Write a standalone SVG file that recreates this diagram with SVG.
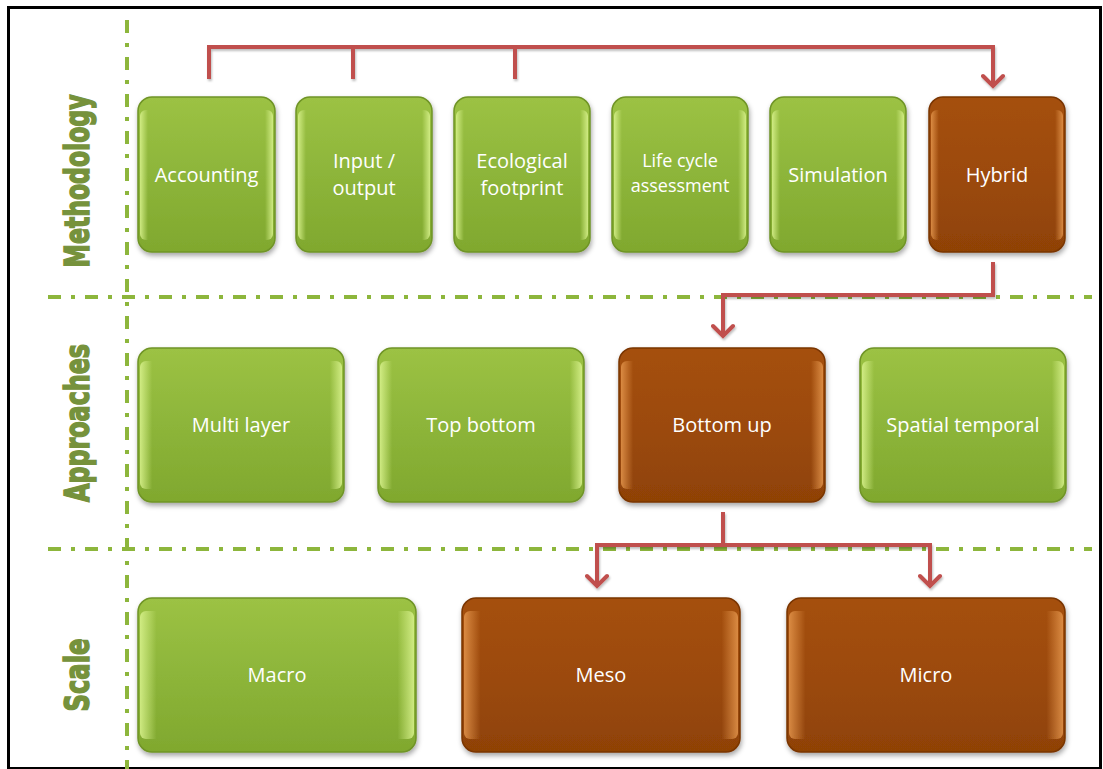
<svg xmlns="http://www.w3.org/2000/svg" width="1103" height="769" viewBox="0 0 1103 769">
<defs>
<linearGradient id="gGreen" x1="0" y1="0" x2="0" y2="1">
<stop offset="0" stop-color="#9cc244"/>
<stop offset="0.5" stop-color="#8db53a"/>
<stop offset="1" stop-color="#80a82e"/>
</linearGradient>
<linearGradient id="gBrown" x1="0" y1="0" x2="0" y2="1">
<stop offset="0" stop-color="#a5500e"/>
<stop offset="0.5" stop-color="#9c4a0a"/>
<stop offset="1" stop-color="#8f4206"/>
</linearGradient>
<linearGradient id="gEdgeG" x1="0" y1="0" x2="1" y2="0">
<stop offset="0" stop-color="#d6f08a" stop-opacity="0.9"/>
<stop offset="0.06" stop-color="#d6f08a" stop-opacity="0"/>
<stop offset="0.94" stop-color="#d6f08a" stop-opacity="0"/>
<stop offset="1" stop-color="#d6f08a" stop-opacity="0.9"/>
</linearGradient>
<linearGradient id="gEdgeB" x1="0" y1="0" x2="1" y2="0">
<stop offset="0" stop-color="#e89a50" stop-opacity="0.8"/>
<stop offset="0.06" stop-color="#e89a50" stop-opacity="0"/>
<stop offset="0.94" stop-color="#e89a50" stop-opacity="0"/>
<stop offset="1" stop-color="#e89a50" stop-opacity="0.8"/>
</linearGradient>
<filter id="sh" x="-10%" y="-10%" width="120%" height="125%">
<feDropShadow dx="1" dy="3" stdDeviation="2.5" flood-color="#000" flood-opacity="0.35"/>
</filter>
<filter id="lsh" x="-10%" y="-10%" width="120%" height="130%">
<feDropShadow dx="1" dy="2" stdDeviation="1" flood-color="#000" flood-opacity="0.25"/>
</filter>
<marker id="arr" viewBox="-14 -12 16 24" markerWidth="16" markerHeight="24" refX="0" refY="0" orient="auto" markerUnits="userSpaceOnUse">
<path d="M-11,-10 L-1,0 L-11,10" fill="none" stroke="#c0504d" stroke-width="4" stroke-linecap="round" stroke-linejoin="miter"/>
</marker>
</defs>
<style>
.g{fill:url(#gGreen);stroke:#6f9426;stroke-width:1.5;filter:url(#sh)}
.b{fill:url(#gBrown);stroke:#7a3504;stroke-width:1.5;filter:url(#sh)}
.eg{fill:url(#gEdgeG);stroke:none}
.eb{fill:url(#gEdgeB);stroke:none}
.t{font-family:"Open Sans","Liberation Sans",sans-serif;fill:#ffffff;font-size:20px;text-anchor:middle}
.ts{font-size:18px}
.lab{font-family:"DejaVu Sans Condensed","Liberation Sans Narrow","Liberation Sans",sans-serif;font-weight:bold;font-size:34px;fill:#76923c;stroke:#76923c;stroke-width:1.5;text-anchor:middle}
.dd{stroke:#8db63c;stroke-width:4;fill:none;stroke-dasharray:13 10 4 10}
.c{stroke:#c0504d;stroke-width:4;fill:none;stroke-linejoin:miter}
</style>
<rect x="0" y="0" width="1103" height="769" fill="#ffffff"/>
<rect x="8.5" y="7.5" width="1092" height="761" fill="none" stroke="#000" stroke-width="3"/>

<g id="grid">
<line class="dd" x1="127" y1="20" x2="127" y2="769"/>
<line class="dd" x1="48" y1="297" x2="1092" y2="297"/>
<line class="dd" x1="48" y1="549" x2="1092" y2="549"/>
</g>

<g id="labels">
<text class="lab" transform="translate(89,181) rotate(-90)" textLength="173" lengthAdjust="spacingAndGlyphs">Methodology</text>
<text class="lab" transform="translate(89,423) rotate(-90)" textLength="158" lengthAdjust="spacingAndGlyphs">Approaches</text>
<text class="lab" transform="translate(89,675) rotate(-90)" textLength="73" lengthAdjust="spacingAndGlyphs">Scale</text>
</g>

<g id="n-accounting"><rect class="g" x="138" y="97" width="137" height="155" rx="14"/><rect class="eg" x="140" y="110" width="133" height="130" rx="6"/><text class="t" x="206.5" y="182">Accounting</text></g>
<g id="n-inputoutput"><rect class="g" x="296" y="97" width="136" height="155" rx="14"/><rect class="eg" x="298" y="110" width="132" height="130" rx="6"/><text class="t" x="364" y="168">Input /</text><text class="t" x="364" y="195">output</text></g>
<g id="n-ecological"><rect class="g" x="454" y="97" width="136" height="155" rx="14"/><rect class="eg" x="456" y="110" width="132" height="130" rx="6"/><text class="t" x="522" y="168">Ecological</text><text class="t" x="522" y="195">footprint</text></g>
<g id="n-lca"><rect class="g" x="612" y="97" width="136" height="155" rx="14"/><rect class="eg" x="614" y="110" width="132" height="130" rx="6"/><text class="t ts" x="680" y="167">Life cycle</text><text class="t ts" x="680" y="192">assessment</text></g>
<g id="n-simulation"><rect class="g" x="770" y="97" width="136" height="155" rx="14"/><rect class="eg" x="772" y="110" width="132" height="130" rx="6"/><text class="t" x="838" y="182">Simulation</text></g>
<g id="n-hybrid"><rect class="b" x="929" y="97" width="136" height="155" rx="14"/><rect class="eb" x="931" y="110" width="132" height="130" rx="6"/><text class="t" x="997" y="182">Hybrid</text></g>

<g id="n-multilayer"><rect class="g" x="138" y="348" width="206" height="154" rx="14"/><rect class="eg" x="140" y="361" width="202" height="128" rx="6"/><text class="t" x="241" y="432">Multi layer</text></g>
<g id="n-topbottom"><rect class="g" x="378" y="348" width="206" height="154" rx="14"/><rect class="eg" x="380" y="361" width="202" height="128" rx="6"/><text class="t" x="481" y="432">Top bottom</text></g>
<g id="n-bottomup"><rect class="b" x="619" y="348" width="206" height="154" rx="14"/><rect class="eb" x="621" y="361" width="202" height="128" rx="6"/><text class="t" x="722" y="432">Bottom up</text></g>
<g id="n-spatial"><rect class="g" x="860" y="348" width="206" height="154" rx="14"/><rect class="eg" x="862" y="361" width="202" height="128" rx="6"/><text class="t" x="963" y="432">Spatial temporal</text></g>

<g id="n-macro"><rect class="g" x="138" y="598" width="278" height="154" rx="14"/><rect class="eg" x="140" y="611" width="274" height="128" rx="6"/><text class="t" x="277" y="682">Macro</text></g>
<g id="n-meso"><rect class="b" x="462" y="598" width="278" height="154" rx="14"/><rect class="eb" x="464" y="611" width="274" height="128" rx="6"/><text class="t" x="601" y="682">Meso</text></g>
<g id="n-micro"><rect class="b" x="787" y="598" width="278" height="154" rx="14"/><rect class="eb" x="789" y="611" width="274" height="128" rx="6"/><text class="t" x="926" y="682">Micro</text></g>

<g id="connectors" filter="url(#lsh)">
<path class="c" d="M209,79 V47 H993 V87" marker-end="url(#arr)"/>
<path class="c" d="M353,47 V79"/>
<path class="c" d="M515,47 V79"/>
<path class="c" d="M993,262 V295 H723 V337" marker-end="url(#arr)"/>
<path class="c" d="M723,512 V545 H597 V587" marker-end="url(#arr)"/>
<path class="c" d="M723,545 H930 V587" marker-end="url(#arr)"/>
</g>
</svg>
